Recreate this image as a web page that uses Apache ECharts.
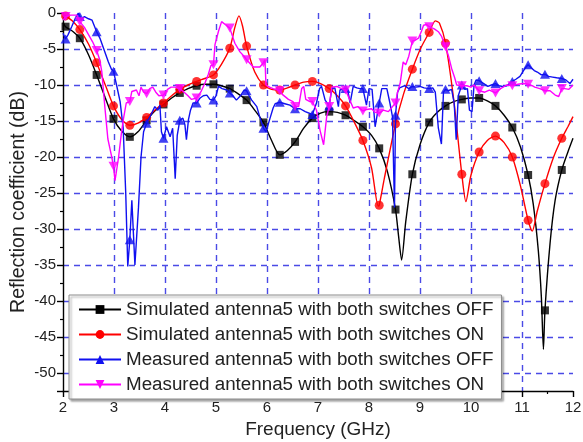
<!DOCTYPE html>
<html>
<head>
<meta charset="utf-8">
<script src="https://cdn.jsdelivr.net/npm/echarts@6/dist/echarts.min.js"></script>
<style>
html,body{margin:0;padding:0;background:#fff;}
#chart{width:583px;height:442px;}
</style>
</head>
<body>
<div id="chart"></div>
<script>
// ---- Data (dB values) ----
const seriesNames = [
  'Simulated antenna5 with both switches OFF',
  'Simulated antenna5 with both switches ON',
  'Measured antenna5 with both switches OFF',
  'Measured antenna5 with both switches ON'
];

const simOffF  = [2.0,2.05,2.2,2.33,2.5,2.66,2.83,2.99,3.15,3.31,3.47,3.64,3.8,3.97,4.13,4.29,4.45,4.62,4.78,4.95,5.1,5.27,5.43,5.6,5.76,5.93,6.09,6.25,6.4,6.55,6.72,6.89,7.05,7.22,7.38,7.54,7.7,7.88,8.05,8.2,8.36,8.52,8.58,8.64,8.72,8.85,9.0,9.18,9.34,9.5,9.66,9.82,10.0,10.16,10.32,10.48,10.65,10.81,10.97,11.12,11.22,11.32,11.38,11.42,11.45,11.55,11.65,11.78,11.9,12.0];
const simOffDB = [-1.3,-1.9,-2.6,-3.5,-5.8,-8.6,-11.8,-14.7,-16.4,-17.2,-16.5,-14.9,-13.6,-12.7,-11.8,-11.1,-10.5,-10.1,-9.9,-9.9,-10.1,-10.5,-11.2,-12.1,-13.5,-15.2,-17.7,-19.7,-19.1,-17.9,-16.0,-14.6,-13.9,-13.7,-13.8,-14.2,-14.9,-15.8,-17.0,-18.8,-22.0,-27.3,-31.0,-34.3,-29.0,-22.4,-18.3,-15.2,-13.8,-12.9,-12.3,-12.0,-11.8,-11.8,-12.2,-12.9,-14.2,-15.9,-18.6,-22.5,-26.5,-33.0,-39.5,-46.7,-41.3,-32.0,-26.0,-21.8,-19.3,-17.4];

const simOnF  = [2.0,2.05,2.2,2.33,2.5,2.66,2.83,2.99,3.15,3.31,3.47,3.64,3.8,3.97,4.13,4.29,4.45,4.62,4.78,4.95,5.1,5.27,5.37,5.45,5.52,5.6,5.76,5.93,6.09,6.25,6.4,6.55,6.72,6.89,7.05,7.22,7.38,7.54,7.7,7.88,8.05,8.18,8.2,8.3,8.52,8.68,8.85,9.02,9.18,9.3,9.38,9.5,9.66,9.82,9.9,10.0,10.16,10.32,10.48,10.65,10.81,10.97,11.12,11.2,11.3,11.45,11.62,11.78,11.9,12.0];
const simOnDB = [-0.2,-0.4,-1.2,-2.3,-4.3,-6.9,-10.0,-12.9,-14.8,-15.6,-15.3,-14.5,-13.5,-12.5,-11.5,-10.6,-10.0,-9.5,-9.1,-8.6,-7.2,-4.9,-2.0,-0.4,-1.8,-4.6,-8.2,-10.0,-10.6,-10.7,-10.4,-10.0,-9.6,-9.5,-9.8,-10.5,-11.5,-12.9,-15.0,-17.7,-21.5,-26.8,-26.7,-23.0,-15.4,-11.2,-7.8,-4.8,-2.7,-1.1,-1.4,-4.2,-12.0,-22.4,-26.2,-22.5,-19.3,-17.7,-17.1,-18.0,-20.0,-24.0,-28.8,-30.3,-27.5,-23.7,-20.0,-17.4,-15.8,-14.4];

const measOffF  = [2.0,2.05,2.1,2.17,2.25,2.3,2.36,2.42,2.5,2.57,2.66,2.73,2.8,2.89,2.95,2.99,3.05,3.12,3.18,3.23,3.27,3.31,3.35,3.39,3.41,3.44,3.48,3.53,3.58,3.64,3.72,3.8,3.86,3.9,3.93,3.97,4.03,4.1,4.15,4.2,4.24,4.29,4.35,4.39,4.42,4.46,4.5,4.55,4.62,4.69,4.75,4.82,4.88,4.95,5.0,5.05,5.12,5.21,5.27,5.33,5.4,5.48,5.55,5.6,5.65,5.7,5.8,5.86,5.93,5.98,6.06,6.12,6.16,6.25,6.35,6.45,6.55,6.65,6.75,6.89,6.97,7.03,7.07,7.14,7.22,7.27,7.33,7.4,7.43,7.54,7.58,7.63,7.69,7.76,7.82,7.88,7.95,8.0,8.06,8.12,8.2,8.25,8.35,8.41,8.46,8.5,8.52,8.56,8.6,8.7,8.78,8.85,8.92,9.0,9.08,9.18,9.25,9.3,9.36,9.42,9.46,9.5,9.55,9.62,9.67,9.71,9.75,9.82,9.88,9.93,9.97,10.02,10.06,10.1,10.16,10.25,10.33,10.4,10.48,10.55,10.62,10.7,10.81,10.88,10.96,11.03,11.08,11.12,11.18,11.24,11.3,11.38,11.45,11.52,11.6,11.68,11.78,11.86,11.94,12.0];
const measOffDB = [-2.8,-3.6,-3.0,-1.9,-0.6,0.0,-0.9,-0.5,-0.8,-1.0,-2.6,-3.6,-5.0,-6.8,-7.8,-8.1,-10.0,-12.3,-16.0,-25.0,-35.2,-31.5,-26.0,-32.0,-35.0,-35.0,-27.0,-20.0,-16.5,-15.3,-14.2,-13.0,-13.5,-12.8,-16.5,-17.4,-15.8,-17.2,-16.0,-23.0,-17.0,-14.9,-14.6,-15.5,-17.6,-14.8,-13.5,-12.5,-12.5,-11.8,-11.5,-11.4,-12.0,-12.1,-11.5,-10.2,-10.5,-10.7,-11.1,-11.5,-12.1,-11.5,-10.7,-10.8,-11.5,-12.1,-13.0,-14.5,-16.0,-16.5,-14.6,-13.2,-12.6,-12.4,-12.6,-12.8,-13.3,-13.3,-13.7,-14.1,-12.5,-10.5,-10.2,-12.1,-12.9,-10.5,-10.4,-13.0,-10.7,-10.5,-10.6,-12.5,-10.2,-10.4,-10.5,-10.5,-12.8,-10.5,-10.6,-15.8,-12.5,-10.5,-10.5,-12.5,-14.4,-27.0,-14.2,-11.0,-10.4,-10.1,-10.5,-10.2,-10.3,-10.2,-10.4,-10.5,-10.4,-11.0,-16.0,-18.2,-11.0,-10.6,-10.8,-10.6,-12.5,-17.6,-11.5,-10.0,-10.6,-10.5,-13.5,-13.7,-10.0,-9.3,-9.4,-9.8,-10.2,-10.0,-9.8,-10.1,-10.2,-10.1,-9.5,-9.2,-8.8,-8.0,-7.5,-7.2,-7.6,-8.0,-8.2,-8.6,-8.5,-8.8,-8.9,-9.0,-9.1,-9.3,-9.8,-9.2];

const measOnF  = [2.0,2.05,2.15,2.27,2.33,2.42,2.5,2.58,2.66,2.72,2.76,2.79,2.82,2.88,2.95,2.99,3.02,3.09,3.14,3.18,3.24,3.31,3.35,3.44,3.49,3.53,3.58,3.64,3.7,3.76,3.82,3.88,3.97,4.05,4.12,4.2,4.29,4.36,4.45,4.52,4.62,4.7,4.78,4.85,4.9,4.95,4.98,5.05,5.11,5.18,5.27,5.37,5.47,5.55,5.6,5.73,5.86,5.93,5.96,5.98,6.05,6.12,6.25,6.3,6.42,6.51,6.55,6.62,6.68,6.72,6.76,6.84,6.89,6.97,7.04,7.11,7.17,7.22,7.27,7.37,7.46,7.54,7.62,7.69,7.78,7.88,7.95,8.05,8.12,8.2,8.28,8.38,8.46,8.52,8.56,8.61,8.67,8.72,8.78,8.85,8.9,8.97,9.03,9.07,9.13,9.18,9.28,9.36,9.42,9.5,9.56,9.62,9.68,9.72,9.82,9.92,10.0,10.06,10.16,10.27,10.36,10.48,10.58,10.7,10.81,10.92,11.02,11.12,11.2,11.25,11.35,11.45,11.55,11.65,11.72,11.78,11.84,11.92,12.0];
const measOnDB = [-1.0,-0.5,-0.3,-0.3,-1.2,-2.0,-3.0,-4.0,-5.2,-6.5,-8.1,-10.5,-13.0,-17.5,-19.8,-21.3,-23.3,-20.0,-17.0,-14.9,-12.5,-12.3,-10.9,-10.7,-11.5,-10.3,-11.0,-11.2,-10.5,-10.3,-11.0,-11.5,-11.4,-10.6,-10.3,-10.3,-10.5,-10.9,-11.5,-12.0,-11.8,-11.0,-9.8,-8.5,-7.3,-7.2,-4.4,-2.5,-1.2,-1.6,-2.1,-4.2,-5.4,-6.0,-6.5,-7.5,-7.5,-6.9,-6.5,-10.0,-10.3,-10.5,-10.8,-11.3,-12.0,-12.3,-13.0,-13.0,-10.5,-10.2,-12.0,-12.3,-12.3,-13.5,-16.3,-18.3,-14.4,-13.0,-10.3,-10.2,-10.5,-10.7,-12.0,-13.2,-13.0,-13.6,-13.4,-13.3,-13.8,-13.9,-13.5,-13.7,-13.0,-12.5,-11.0,-9.8,-6.8,-7.2,-6.0,-3.9,-3.8,-3.5,-2.5,-1.7,-1.6,-1.9,-2.2,-2.6,-3.2,-4.7,-6.0,-7.7,-9.0,-10.0,-10.1,-10.1,-10.3,-10.0,-10.8,-11.0,-10.7,-11.1,-10.5,-10.0,-10.1,-9.9,-9.8,-9.9,-10.1,-10.3,-10.5,-10.8,-10.8,-11.4,-11.6,-10.5,-10.5,-10.6,-10.0];

// marker positions (every ~1/3 GHz) and marker values for each curve
const markF = [2.05,2.33,2.66,2.99,3.31,3.64,3.97,4.29,4.62,4.95,5.27,5.6,5.93,6.25,6.55,6.89,7.22,7.54,7.88,8.2,8.52,8.85,9.18,9.5,9.82,10.16,10.48,10.81,11.12,11.45,11.78];
const simOffMarkDB  = [-1.9,-3.5,-8.6,-14.7,-17.2,-14.9,-12.7,-11.1,-10.1,-9.9,-10.5,-12.1,-15.2,-19.7,-17.9,-14.6,-13.7,-14.2,-15.8,-18.8,-27.3,-22.4,-15.2,-12.9,-12.0,-11.8,-12.9,-15.9,-22.5,-41.3,-21.8];
const simOnMarkDB   = [-0.4,-2.3,-6.9,-12.9,-15.6,-14.5,-12.5,-10.6,-9.5,-8.6,-4.9,-4.6,-10.0,-10.7,-10.0,-9.5,-10.5,-12.9,-17.7,-26.7,-15.4,-7.8,-2.7,-4.2,-22.4,-19.3,-17.1,-20.0,-28.8,-23.7,-17.4];
const measOffMarkDB = [-3.6,-0.5,-2.6,-8.1,-31.5,-15.3,-17.4,-14.9,-12.5,-12.1,-11.1,-10.8,-16.0,-12.4,-13.3,-14.1,-12.9,-10.5,-10.5,-12.5,-14.2,-10.2,-10.5,-10.6,-10.0,-9.4,-9.8,-9.5,-7.2,-8.5,-9.1];
const measOnMarkDB  = [-0.5,-1.2,-5.2,-21.3,-12.3,-11.2,-11.4,-10.5,-11.8,-7.2,-2.1,-6.5,-6.9,-10.8,-13.0,-12.3,-13.0,-10.7,-13.6,-13.9,-12.5,-3.9,-1.9,-4.7,-10.1,-10.8,-11.1,-10.1,-9.9,-10.8,-10.5];

const xTickMin = 2, xTickMax = 12, xTickStep = 1;
const yTickStep = 5; // dB

// ---- Chart ----
// The y axis shows -dB inverted so that ticks are counted from 0 (top) downward.
const toPts = (f, d) => f.map((x, i) => [x, -d[i]]);
const colors = ['#000000', '#ff0000', '#1010f0', '#ff00ff'];
const symbols = ['rect', 'circle', 'triangle', 'path://M0,0 L10,0 L5,9 Z'];
const symSizes = [8, 9, [10, 9], [10, 9]];
const lineF = [simOffF, simOnF, measOffF, measOnF];
const lineD = [simOffDB, simOnDB, measOffDB, measOnDB];
const markD = [simOffMarkDB, simOnMarkDB, measOffMarkDB, measOnMarkDB];
const smoothness = [0.25, 0.25, false, false];

const series = [];
for (let k = 0; k < 4; k++) {
  series.push({
    name: seriesNames[k], type: 'line', data: toPts(lineF[k], lineD[k]),
    smooth: smoothness[k], symbol: symbols[k], symbolSize: symSizes[k], showSymbol: false,
    lineStyle: { color: colors[k], width: 1.4 }, itemStyle: { color: colors[k] },
    z: 2 + k, animation: false, silent: true
  });
  series.push({
    type: 'scatter', data: toPts(markF, markD[k]), symbol: symbols[k], symbolSize: symSizes[k],
    itemStyle: { color: colors[k] }, z: 2 + k, animation: false, silent: true
  });
}

const font = 'Liberation Sans, Arial, Helvetica, sans-serif';
const gridLine = { show: true, showMinLine: false, showMaxLine: false,
  lineStyle: { color: '#4a4ae6', width: 1.4, type: [6, 5] } };

const chart = echarts.init(document.getElementById('chart'), null, { renderer: 'canvas' });
chart.setOption({
  animation: false,
  backgroundColor: '#ffffff',
  grid: { left: 63, right: 10, top: 13, bottom: 51, containLabel: false, outerBoundsMode: 'none' },
  xAxis: {
    type: 'value', min: xTickMin, max: xTickMax, interval: xTickStep,
    name: 'Frequency (GHz)', nameLocation: 'middle', nameGap: 24,
    nameTextStyle: { fontSize: 19, color: '#222', fontFamily: font },
    axisLine: { onZero: false, lineStyle: { color: '#000', width: 1.4 } },
    axisTick: { show: true, inside: false, length: 6, lineStyle: { color: '#000', width: 1.4 } },
    minorTick: { show: true, splitNumber: 2, length: 3, lineStyle: { color: '#000', width: 1.2 } },
    axisLabel: { fontSize: 15, color: '#222', fontFamily: font, margin: 9 },
    splitLine: gridLine
  },
  yAxis: {
    type: 'value', inverse: true, min: 0, max: 52.5, interval: yTickStep,
    name: 'Reflection coefficient (dB)', nameLocation: 'middle', nameGap: 34, nameRotate: 90,
    nameMoveOverlap: false,
    nameTextStyle: { fontSize: 19.5, color: '#222', fontFamily: font },
    axisLine: { show: true, lineStyle: { color: '#000', width: 1.4 } },
    axisTick: { show: true, inside: false, length: 6, lineStyle: { color: '#000', width: 1.4 } },
    minorTick: { show: true, splitNumber: 2, length: 3, lineStyle: { color: '#000', width: 1.2 } },
    axisLabel: { fontSize: 15, color: '#222', fontFamily: font, margin: 7, showMaxLabel: false,
      formatter: v => (v === 0 ? '0' : String(-v)) },
    splitLine: gridLine
  },
  legend: {
    orient: 'vertical', left: 69, top: 295,
    itemWidth: 42, itemHeight: 11, itemGap: 6,
    padding: [5, 8, 5, 9],
    backgroundColor: '#ffffff', borderColor: '#8c8c8c', borderWidth: 1,
    shadowColor: 'rgba(0,0,0,0.35)', shadowBlur: 2, shadowOffsetX: 2, shadowOffsetY: 2,
    textStyle: { fontSize: 18.8, color: '#222', fontFamily: font, lineHeight: 16 },
    data: seriesNames
  },
  series: series
});
</script>
</body>
</html>
